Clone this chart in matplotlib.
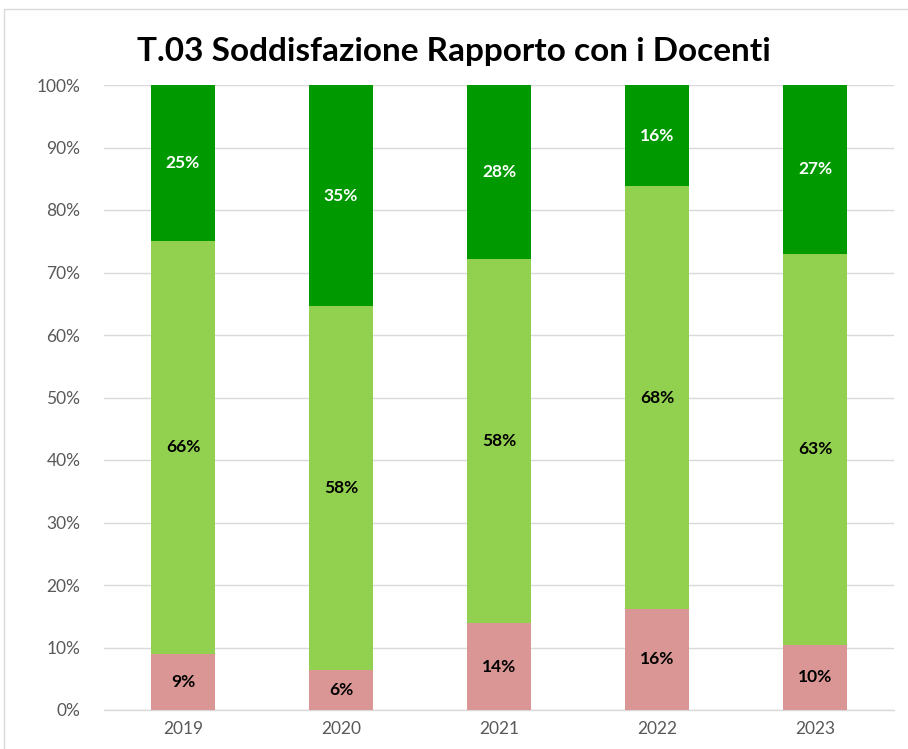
import matplotlib.pyplot as plt
import matplotlib.patches as mpatches
import numpy as np

plt.rcParams['font.family'] = ['Lato', 'DejaVu Sans']

anni = ['2019', '2020', '2021', '2022', '2023']
insoddisfatti = [9.0, 6.4, 13.9, 16.2, 10.4]
soddisfatti = [66.0, 58.2, 58.3, 67.6, 62.6]
molto_soddisfatti = [25.0, 35.4, 27.8, 16.2, 27.0]

col_rosso = '#DA9694'
col_verde_chiaro = '#92D050'
col_verde = '#009A00'

fig = plt.figure(figsize=(9.08, 7.49), dpi=100)
ax = fig.add_axes([104/908, 1-710/749, 790/908, 625/749])

x = np.arange(len(anni))
w = 0.4
b1 = ax.bar(x, insoddisfatti, w, color=col_rosso, zorder=3)
b2 = ax.bar(x, soddisfatti, w, bottom=insoddisfatti, color=col_verde_chiaro, zorder=3)
base3 = np.array(insoddisfatti) + np.array(soddisfatti)
b3 = ax.bar(x, molto_soddisfatti, w, bottom=base3, color=col_verde, zorder=3)

ax.bar_label(b1, labels=['%d%%' % round(v) for v in insoddisfatti], label_type='center',
             fontsize=12.5, fontweight='bold', color='black')
ax.bar_label(b2, labels=['%d%%' % round(v) for v in soddisfatti], label_type='center',
             fontsize=12.5, fontweight='bold', color='black')
ax.bar_label(b3, labels=['%d%%' % round(v) for v in molto_soddisfatti], label_type='center',
             fontsize=12.5, fontweight='bold', color='white')

ax.set_xlim(-0.5, len(anni) - 0.5)
ax.set_ylim(0, 100)
ax.set_yticks(range(0, 101, 10))
ax.set_yticklabels(['%d%%' % v for v in range(0, 101, 10)])
ax.set_xticks(x)
ax.set_xticklabels(anni)
ax.tick_params(length=0, labelsize=12.5, labelcolor='#595959', pad=8)
ax.tick_params(axis='y', pad=17)
ax.grid(axis='y', color='#D9D9D9', linewidth=1, zorder=0)
for s in ['top', 'right', 'left']:
    ax.spines[s].set_visible(False)
ax.spines['bottom'].set_color('#D9D9D9')
ax.spines['bottom'].set_linewidth(1)

fig.text(0.5, 1-51/749, 'T.03 Soddisfazione Rapporto con i Docenti', ha='center', va='center',
         fontsize=24, fontweight='bold', color='black')

# cornice del grafico
fig.patches.append(mpatches.Rectangle((4/908, -0.1), 1.2, 1-9/749+0.1, transform=fig.transFigure,
                                      fill=False, edgecolor='#D9D9D9', linewidth=1))

plt.savefig('out.png', dpi=100)
